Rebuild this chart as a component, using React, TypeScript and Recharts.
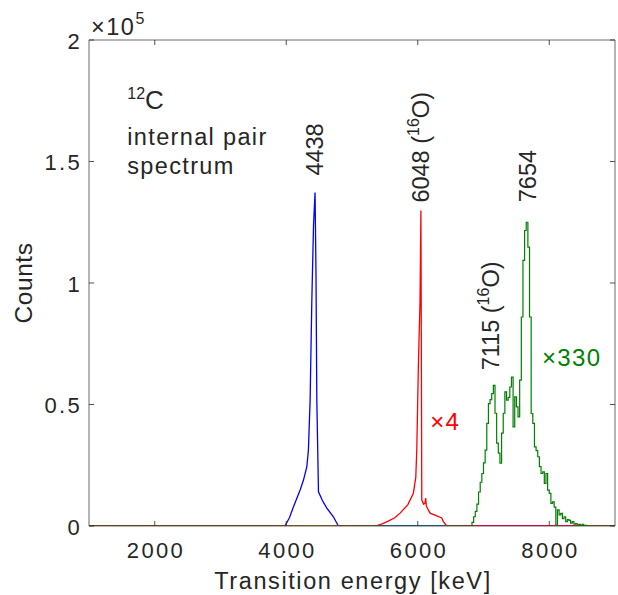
import React from "react"
import { LineChart, Line, XAxis, YAxis, ReferenceArea, ReferenceDot } from "recharts"

const W = 618
const H = 595
const TOP = 40
const BOTTOM = 526
const LEFT = 89
const RIGHT = 615
const INK = "#262626"
const FONT = '"Liberation Sans", Arial, Helvetica, sans-serif'

const xTicks = [2000, 4000, 6000, 8000]
const yTicks = [0, 50000, 100000, 150000, 200000]
const yTickLabels = ["0", "0.5", "1", "1.5", "2"]

// 4438 keV line
const blueEnergy = [1000, 3980, 4050, 4110, 4211, 4262, 4313, 4337, 4363, 4389, 4415, 4438, 4452, 4465, 4490, 4550, 4617, 4717, 4793, 9000]
const blueCounts = [0, 0, 3500, 7900, 14800, 18900, 24400, 31200, 51800, 92900, 124000, 137200, 105000, 51800, 14100, 10500, 7400, 3800, 0, 0]

// 6048 keV line (x4)
const redEnergy = [1000, 5351, 5450, 5550, 5650, 5731, 5850, 5933, 5970, 5985, 6009, 6035, 6048, 6056, 6061, 6090, 6110, 6121, 6130, 6187, 6263, 6365, 6390, 6441, 9000]
const redCounts = [0, 0, 800, 2000, 3400, 5300, 8800, 13500, 20000, 31200, 65400, 92900, 129800, 60000, 10700, 9000, 9400, 11500, 8200, 5300, 4500, 3300, 1800, 0, 0]

// 7654 / 7115 region (x330), 25 keV bins
const greenEnergy = [
  1000, 6800, 6825, 6850, 6875, 6900, 6925, 6950, 6975, 7000, 7025, 7050, 7075, 7100, 7125, 7150, 7175, 7200, 7225, 7250,
  7275, 7300, 7325, 7350, 7375, 7400, 7425, 7450, 7475, 7500, 7525, 7550, 7575, 7600, 7625, 7650, 7675, 7700, 7725, 7750,
  7775, 7800, 7825, 7850, 7875, 7900, 7925, 7950, 7975, 8000, 8025, 8050, 8075, 8100, 8125, 8150, 8175, 8200, 8225, 8250,
  8275, 8300, 8325, 8350, 8375, 8400, 8425, 8450, 8475, 8500, 8525, 8550, 8575, 9000,
]
const greenCounts = [
  0, 0, 1500, 3800, 6000, 9000, 14000, 18000, 21600, 26000, 31200, 42200, 50400, 52000, 54500, 57900, 46400, 34100, 30000, 25900,
  38200, 46400, 55200, 51800, 52900, 57200, 61300, 40800, 53100, 49000, 44900, 60000, 86000, 109300, 121600, 125000, 114800, 86000, 46300, 42200,
  32600, 31000, 28500, 24400, 21600, 22300, 17500, 21600, 14800, 13400, 9300, 9900, 7800, 400, 6600, 4600, 5200, 3000, 3800, 1800,
  2600, 2300, 1200, 1800, 800, 1000, 500, 700, 300, 700, 200, 300, 0, 0,
]

const toRows = (e: number[], c: number[]) => e.map((v, i) => ({ e: v, c: c[i] }))
const blueData = toRows(blueEnergy, blueCounts)
const redData = toRows(redEnergy, redCounts)
const greenData = toRows(greenEnergy, greenCounts)

const txt = { fontFamily: FONT, fontSize: 23.5, fill: INK }
const tickTxt = { fontFamily: FONT, fontSize: 22, fill: INK, letterSpacing: 2.3 }

const XTick = (p: any) => {
  const { x, payload } = p
  return (
    <g>
      <line x1={x} x2={x} y1={BOTTOM} y2={BOTTOM - 5} stroke={INK} strokeWidth={0.8} />
      <line x1={x} x2={x} y1={TOP} y2={TOP + 5} stroke={INK} strokeWidth={0.8} />
      <text x={x + 1.2} y={558} textAnchor="middle" {...tickTxt}>{payload.value}</text>
    </g>
  )
}

const YTick = (p: any) => {
  const { y, payload, index } = p
  return (
    <g>
      <line x1={LEFT} x2={LEFT + 5} y1={y} y2={y} stroke={INK} strokeWidth={0.8} />
      <line x1={RIGHT} x2={RIGHT - 5} y1={y} y2={y} stroke={INK} strokeWidth={0.8} />
      <text x={82} y={y + 8.5} textAnchor="end" {...tickTxt}>{yTickLabels[index] ?? payload.value}</text>
    </g>
  )
}

// rotated peak labels above a point
const rotLabel = (main: string, sup: string | null, tail: string, gap: number, dx: number) => (p: any) => {
  const vb = p.viewBox
  const cx = vb.x + vb.width / 2
  const cy = vb.y
  return (
    <text transform={`translate(${cx + dx},${cy - gap}) rotate(-90)`} {...txt}>
      <tspan>{main}</tspan>
      {sup && <tspan fontSize={16} dy={-10}>{sup}</tspan>}
      {sup && <tspan dy={10}>{tail}</tspan>}
    </text>
  )
}

const flatLabel = (text: string, color: string) => (p: any) => {
  const vb = p.viewBox
  return (
    <text x={vb.x} y={vb.y + 8.5} {...txt} fontSize={24} letterSpacing={1.3} fill={color}>{text}</text>
  )
}

const titleLabel = (p: any) => {
  const vb = p.viewBox
  const x = vb.x
  const y = vb.y
  return (
    <text x={x} y={y} {...txt} letterSpacing={1.35}>
      <tspan fontSize={16} dy={-10} letterSpacing={0}>12</tspan>
      <tspan fontSize={26} dy={10}>C</tspan>
      <tspan x={x} y={y + 36}>internal pair</tspan>
      <tspan x={x} y={y + 65}>spectrum</tspan>
    </text>
  )
}

const expLabel = (p: any) => {
  const vb = p.viewBox
  return (
    <text x={vb.x + 2} y={vb.y - 5} {...txt} letterSpacing={1.5}>
      <tspan>×10</tspan>
      <tspan fontSize={16} dy={-11}>5</tspan>
    </text>
  )
}

const xTitle = () => (
  <text x={(LEFT + RIGHT) / 2 + 1} y={589} textAnchor="middle" {...txt} letterSpacing={1.6}>Transition energy [keV]</text>
)

const yTitle = () => (
  <text transform={`translate(32,${(TOP + BOTTOM) / 2}) rotate(-90)`} textAnchor="middle" {...txt} fontSize={24.5} letterSpacing={0.6}>Counts</text>
)

export default function App() {
  return (
    <div style={{ position: "absolute", left: 0, top: 0, width: W, height: H, background: "#fff" }}>
      <LineChart width={W} height={H} margin={{ top: TOP, right: W - RIGHT, bottom: 0, left: 0 }}>
        <XAxis
          dataKey="e"
          type="number"
          domain={[1000, 9000]}
          ticks={xTicks}
          height={H - BOTTOM}
          axisLine={false}
          tickLine={false}
          tick={<XTick />}
          allowDataOverflow
          label={xTitle}
        />
        <YAxis
          type="number"
          domain={[0, 200000]}
          ticks={yTicks}
          width={LEFT}
          axisLine={false}
          tickLine={false}
          tick={<YTick />}
          allowDataOverflow
          label={yTitle}
        />
        <ReferenceArea x1={1000} x2={9000} y1={0} y2={200000} fill="none" stroke="#5a5a5a" strokeWidth={0.9} />
        <Line data={blueData} dataKey="c" type="linear" stroke="#0000ff" strokeWidth={1.3} dot={false} isAnimationActive={false} />
        <Line data={redData} dataKey="c" type="linear" stroke="#ff0000" strokeWidth={1.3} dot={false} isAnimationActive={false} />
        <Line data={greenData} dataKey="c" type="stepAfter" stroke="#008000" strokeWidth={1.2} dot={false} isAnimationActive={false} />
        <ReferenceDot x={4438} y={137200} r={0} fill="none" stroke="none" label={rotLabel("4438", null, "", 17, 8)} />
        <ReferenceDot x={6048} y={129800} r={0} fill="none" stroke="none" label={rotLabel("6048 (", "16", "O)", 8, 8)} />
        <ReferenceDot x={7654} y={125000} r={0} fill="none" stroke="none" label={rotLabel("7654", null, "", 20, 9)} />
        <ReferenceDot x={7100} y={57900} r={0} fill="none" stroke="none" label={rotLabel("7115 (", "16", "O)", 15, 9)} />
        <ReferenceDot x={6190} y={43100} r={0} fill="none" stroke="none" label={flatLabel("×4", "#ff0000")} />
        <ReferenceDot x={7890} y={69400} r={0} fill="none" stroke="none" label={flatLabel("×330", "#008000")} />
        <ReferenceDot x={1582} y={171700} r={0} fill="none" stroke="none" label={titleLabel} />
        <ReferenceDot x={1000} y={200000} r={0} fill="none" stroke="none" label={expLabel} />
      </LineChart>
    </div>
  )
}
